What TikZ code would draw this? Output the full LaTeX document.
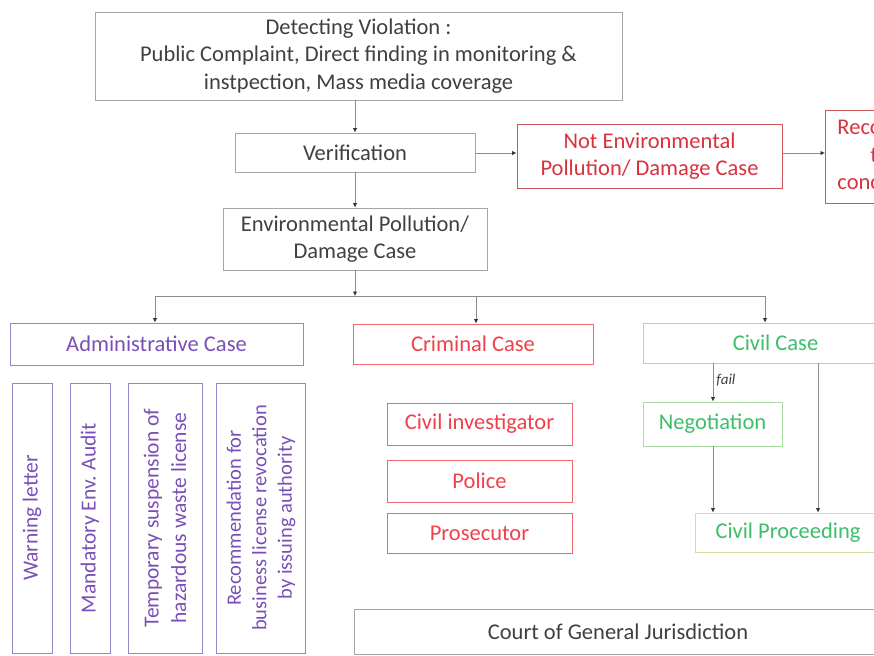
\documentclass[tikz,border=0pt]{standalone}
\usepackage{fontspec}
\setmainfont{Carlito}
\usetikzlibrary{arrows.meta}
\definecolor{gline}{HTML}{8C8C8C}
\definecolor{gtext}{HTML}{404040}
\definecolor{gbord}{HTML}{A6A6A6}
\definecolor{rbord}{HTML}{C9575A}
\definecolor{rtext}{HTML}{D9323F}
\definecolor{cbord}{HTML}{F0656A}
\definecolor{ctext}{HTML}{F0404A}
\definecolor{pbord}{HTML}{9A84CC}
\definecolor{ptext}{HTML}{7A50B8}
\definecolor{vbord}{HTML}{A8DCA0}
\definecolor{vtext}{HTML}{3DBE6A}
\definecolor{ybord}{HTML}{CFE3A0}
\tikzset{
  x=1pt,y=-1pt,
  box/.style={draw=gbord,line width=0.9pt,text=gtext,align=center,inner sep=2pt,
    font=\fontsize{22.5}{27.5}\selectfont},
  redbox/.style={box,draw=rbord,text=rtext},
  crimbox/.style={box,draw=cbord,text=ctext},
  admbox/.style={box,draw=pbord,text=ptext},
  vertbox/.style={admbox,rotate=90,font=\fontsize{21.5}{27.5}\selectfont},
  civbox/.style={box,draw=vbord,text=vtext},
  procbox/.style={box,draw=ybord,text=vtext},
  arr/.style={draw=gline,line width=0.8pt,-{Latex[length=4.5pt,width=4.5pt,color=black!80]}},
  ln/.style={draw=gline,line width=0.8pt}
}
\begin{document}
\begin{tikzpicture}
\useasboundingbox (0,0) rectangle (874,655);
\clip (0,0) rectangle (874,655);
\fill[white] (0,0) rectangle (874,655);
% top
\node[box,minimum width=527,minimum height=88] (top) at (358.5,56)
  {Detecting Violation :\\Public Complaint, Direct finding in monitoring \&\\instpection, Mass media coverage};
\node[box,minimum width=240,minimum height=39] (ver) at (355,152.5) {Verification};
\node[redbox,minimum width=265,minimum height=64] (notenv) at (649.5,156)
  {Not Environmental\\Pollution/ Damage Case};
\node[redbox,anchor=west,minimum width=170,minimum height=93,inner xsep=12pt,align=left] (reco) at (825,156.5)
  {Recommendation\\\hspace*{33pt}to\\concerned agency};
\node[box,minimum width=264,minimum height=62] (env) at (355,239)
  {Environmental Pollution/\\Damage Case};
% cases
\node[admbox,minimum width=293,minimum height=42] (admin) at (156.5,344) {Administrative Case};
\node[crimbox,minimum width=240,minimum height=40] (crim) at (473,344) {Criminal Case};
\node[civbox,minimum width=265,minimum height=40] (civil) at (775.5,343) {Civil Case};
% admin sub
\node[vertbox,minimum width=270,minimum height=40] (w1) at (32,518) {Warning letter};
\node[vertbox,minimum width=270,minimum height=40] (w2) at (90,518) {Mandatory Env. Audit};
\node[vertbox,minimum width=270,minimum height=74] (w3) at (165,518)
  {Temporary suspension of\\hazardous waste license};
\node[vertbox,minimum width=270,minimum height=89,font=\fontsize{20.5}{25.5}\selectfont] (w4) at (261,518)
  {Recommendation for\\business license revocation\\by issuing authority};
% criminal sub
\node[crimbox,minimum width=185,minimum height=42] (civinv) at (479.5,424) {Civil investigator};
\node[crimbox,minimum width=185,minimum height=42] (pol) at (479.5,481) {Police};
\node[crimbox,minimum width=185,minimum height=40] (pros) at (479.5,533) {Prosecutor};
% civil sub
\node[civbox,minimum width=139,minimum height=44] (neg) at (712.5,424) {Negotiation};
\node[procbox,minimum width=186,minimum height=39] (proc) at (788,532.5) {Civil Proceeding};
% court
\node[box,minimum width=528,minimum height=45] (court) at (618,631.5) {Court of General Jurisdiction};
% connectors
\coordinate (hy) at (0,153);
\draw[arr] (top.south -| ver) -- (ver.north);
\draw[arr] (ver.east |- hy) -- (notenv.west |- hy);
\draw[arr] (notenv.east |- hy) -- (reco.west |- hy);
\draw[arr] (ver.south) -- (env.north);
\coordinate (jn) at (355,296);
\coordinate (jl) at (155,296);
\coordinate (jc) at (476,296);
\coordinate (jr) at (765,296);
\draw[arr] (env.south) -- (jn);
\draw[ln] (jl) -- (jr);
\draw[arr] (jl) -- (jl |- admin.north);
\draw[arr] (jc) -- (jc |- crim.north);
\draw[arr] (jr) -- (jr |- civil.north);
\coordinate (nx) at (713,0);
\coordinate (px) at (818,0);
\draw[arr] (civil.south -| nx) -- node[right,pos=0.45,font=\fontsize{15}{17}\selectfont\itshape,text=gtext,inner sep=3pt] (fail) {fail} (neg.north -| nx);
\draw[arr] (neg.south -| nx) -- (proc.north -| nx);
\draw[arr] (civil.south -| px) -- (proc.north -| px);
\end{tikzpicture}
\end{document}
